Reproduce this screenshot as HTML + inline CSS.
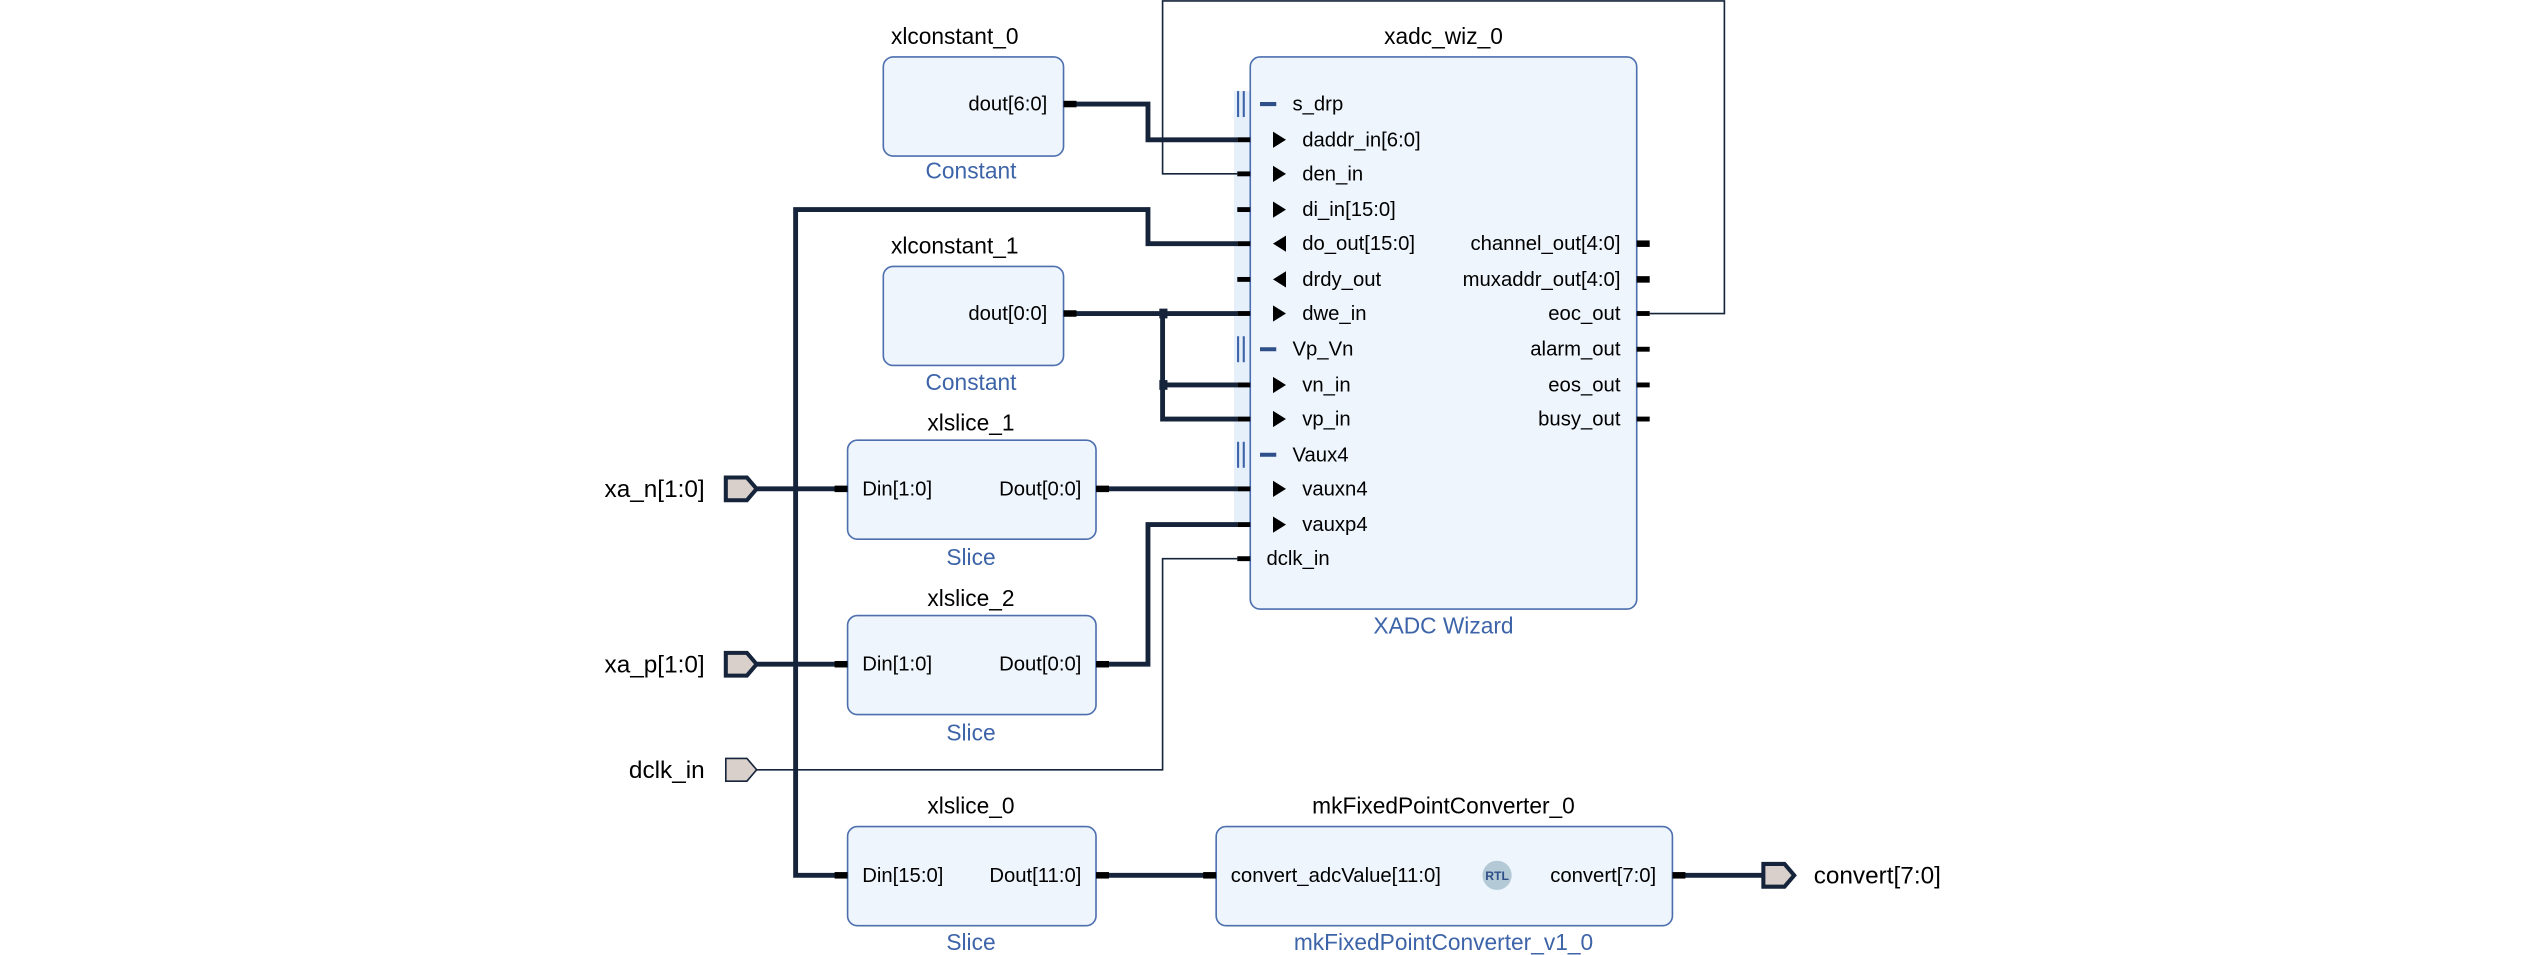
<!DOCTYPE html>
<html><head><meta charset="utf-8"><style>
html,body{margin:0;padding:0;background:#fff;}
svg{display:block;}
text{font-family:"Liberation Sans",Arial,sans-serif;}
.t{font-size:14px;fill:#000;text-anchor:middle;}
.s{font-size:14px;fill:#3d64a8;text-anchor:middle;}
.p{font-size:12.5px;fill:#000;}
.box{fill:#eef5fd;stroke:#4d6fae;stroke-width:1;}
.thick{stroke:#15243a;stroke-width:3;fill:none;}
.thin{stroke:#15243a;stroke-width:1;fill:none;}
.pin{stroke:#000;stroke-width:3;}
.pinb{stroke:#000;stroke-width:4;}
</style></head><body>
<svg width="2546" height="955" viewBox="0 0 1568 588" xmlns="http://www.w3.org/2000/svg">
<rect width="1568" height="588" fill="#fff"/>

<rect x="760" y="56" width="10" height="268" fill="#e6f0fb"/>

<polyline class="thick" points="662,64 707,64 707,86 762,86"/>
<polyline class="thin" points="762,107 716,107 716,0.5 1062,0.5 1062,193 1016,193"/>
<polyline class="thick" points="762,150 707,150 707,129 490,129 490,539 515,539"/>
<polyline class="thick" points="466,301 515,301"/>
<polyline class="thick" points="466,409 515,409"/>
<polyline class="thick" points="662,193 762,193"/>
<polyline class="thick" points="716,193 716,258 762,258"/>
<polyline class="thick" points="716,237 762,237"/>
<rect x="714" y="190" width="5" height="6" fill="#15243a"/>
<rect x="714" y="234" width="5" height="6" fill="#15243a"/>
<polyline class="thick" points="682,301 762,301"/>
<polyline class="thick" points="682,409 707,409 707,323 762,323"/>
<polyline class="thin" points="466,474 716,474 716,344 762,344"/>
<polyline class="thick" points="682,539 742,539"/>
<polyline class="thick" points="1037,539 1085,539"/>

<text class="t" x="588" y="27">xlconstant_0</text>
<rect class="box" x="544" y="35" width="111" height="61" rx="6"/>
<text class="p" x="645" y="68" text-anchor="end">dout[6:0]</text>
<line class="pinb" x1="655" y1="64" x2="663" y2="64"/>
<text class="s" x="598" y="110">Constant</text>

<text class="t" x="588" y="156">xlconstant_1</text>
<rect class="box" x="544" y="164" width="111" height="61" rx="6"/>
<text class="p" x="645" y="197" text-anchor="end">dout[0:0]</text>
<line class="pinb" x1="655" y1="193" x2="663" y2="193"/>
<text class="s" x="598" y="240">Constant</text>

<text class="t" x="889" y="27">xadc_wiz_0</text>
<rect class="box" x="770" y="35" width="238" height="340" rx="6"/>
<text class="s" x="889" y="390">XADC Wizard</text>
<g>
<line x1="762.5" y1="56" x2="762.5" y2="72" stroke="#3d64a8" stroke-width="1.3"/>
<line x1="766" y1="56" x2="766" y2="72" stroke="#3d64a8" stroke-width="1.3"/>
<line x1="776" y1="64" x2="786" y2="64" stroke="#2f4f88" stroke-width="2.5"/>
<text class="p" x="796" y="68">s_drp</text>
<line x1="762.5" y1="207" x2="762.5" y2="223" stroke="#3d64a8" stroke-width="1.3"/>
<line x1="766" y1="207" x2="766" y2="223" stroke="#3d64a8" stroke-width="1.3"/>
<line x1="776" y1="215" x2="786" y2="215" stroke="#2f4f88" stroke-width="2.5"/>
<text class="p" x="796" y="219">Vp_Vn</text>
<line x1="762.5" y1="272" x2="762.5" y2="288" stroke="#3d64a8" stroke-width="1.3"/>
<line x1="766" y1="272" x2="766" y2="288" stroke="#3d64a8" stroke-width="1.3"/>
<line x1="776" y1="280" x2="786" y2="280" stroke="#2f4f88" stroke-width="2.5"/>
<text class="p" x="796" y="284">Vaux4</text>
</g>
<g fill="#000">
<polygon points="784,81 792,86 784,91"/>
<polygon points="784,102 792,107 784,112"/>
<polygon points="784,124 792,129 784,134"/>
<polygon points="792,145 784,150 792,155"/>
<polygon points="792,167 784,172 792,177"/>
<polygon points="784,188 792,193 784,198"/>
<polygon points="784,232 792,237 784,242"/>
<polygon points="784,253 792,258 784,263"/>
<polygon points="784,296 792,301 784,306"/>
<polygon points="784,318 792,323 784,328"/>
</g>
<text class="p" x="802" y="90">daddr_in[6:0]</text>
<text class="p" x="802" y="111">den_in</text>
<text class="p" x="802" y="133">di_in[15:0]</text>
<text class="p" x="802" y="154">do_out[15:0]</text>
<text class="p" x="802" y="176">drdy_out</text>
<text class="p" x="802" y="197">dwe_in</text>
<text class="p" x="802" y="241">vn_in</text>
<text class="p" x="802" y="262">vp_in</text>
<text class="p" x="802" y="305">vauxn4</text>
<text class="p" x="802" y="327">vauxp4</text>
<text class="p" x="780" y="348">dclk_in</text>
<g class="pin">
<line x1="762" y1="86" x2="770" y2="86"/>
<line x1="762" y1="107" x2="770" y2="107"/>
<line x1="762" y1="129" x2="770" y2="129"/>
<line x1="762" y1="150" x2="770" y2="150"/>
<line x1="762" y1="172" x2="770" y2="172"/>
<line x1="762" y1="193" x2="770" y2="193"/>
<line x1="762" y1="237" x2="770" y2="237"/>
<line x1="762" y1="258" x2="770" y2="258"/>
<line x1="762" y1="301" x2="770" y2="301"/>
<line x1="762" y1="323" x2="770" y2="323"/>
<line x1="762" y1="344" x2="770" y2="344"/>
<line x1="1008" y1="193" x2="1016" y2="193"/>
<line x1="1008" y1="215" x2="1016" y2="215"/>
<line x1="1008" y1="237" x2="1016" y2="237"/>
<line x1="1008" y1="258" x2="1016" y2="258"/>
</g>
<line class="pinb" x1="1008" y1="150" x2="1016" y2="150"/>
<line class="pinb" x1="1008" y1="172" x2="1016" y2="172"/>
<text class="p" x="998" y="154" text-anchor="end">channel_out[4:0]</text>
<text class="p" x="998" y="176" text-anchor="end">muxaddr_out[4:0]</text>
<text class="p" x="998" y="197" text-anchor="end">eoc_out</text>
<text class="p" x="998" y="219" text-anchor="end">alarm_out</text>
<text class="p" x="998" y="241" text-anchor="end">eos_out</text>
<text class="p" x="998" y="262" text-anchor="end">busy_out</text>

<text class="t" x="598" y="265">xlslice_1</text>
<rect class="box" x="522" y="271" width="153" height="61" rx="6"/>
<text class="p" x="531" y="305">Din[1:0]</text>
<text class="p" x="666" y="305" text-anchor="end">Dout[0:0]</text>
<line class="pinb" x1="514" y1="301" x2="522" y2="301"/>
<line class="pinb" x1="675" y1="301" x2="683" y2="301"/>
<text class="s" x="598" y="348">Slice</text>

<text class="t" x="598" y="373">xlslice_2</text>
<rect class="box" x="522" y="379" width="153" height="61" rx="6"/>
<text class="p" x="531" y="413">Din[1:0]</text>
<text class="p" x="666" y="413" text-anchor="end">Dout[0:0]</text>
<line class="pinb" x1="514" y1="409" x2="522" y2="409"/>
<line class="pinb" x1="675" y1="409" x2="683" y2="409"/>
<text class="s" x="598" y="456">Slice</text>

<text class="t" x="598" y="501">xlslice_0</text>
<rect class="box" x="522" y="509" width="153" height="61" rx="6"/>
<text class="p" x="531" y="543">Din[15:0]</text>
<text class="p" x="666" y="543" text-anchor="end">Dout[11:0]</text>
<line class="pinb" x1="514" y1="539" x2="522" y2="539"/>
<line class="pinb" x1="675" y1="539" x2="683" y2="539"/>
<text class="s" x="598" y="585">Slice</text>

<text class="t" x="889" y="501">mkFixedPointConverter_0</text>
<rect class="box" x="749" y="509" width="281" height="61" rx="6"/>
<text class="p" x="758" y="543">convert_adcValue[11:0]</text>
<circle cx="922" cy="539" r="9" fill="#b3c9d6"/>
<text x="922" y="542" font-size="7.5" font-weight="bold" fill="#2f4f88" text-anchor="middle">RTL</text>
<text class="p" x="1020" y="543" text-anchor="end">convert[7:0]</text>
<line class="pinb" x1="741" y1="539" x2="749" y2="539"/>
<line class="pinb" x1="1030" y1="539" x2="1038" y2="539"/>
<text class="s" x="889" y="585">mkFixedPointConverter_v1_0</text>

<polygon points="447,294 460,294 466,301 460,308 447,308" fill="#d9d0cb" stroke="#15243a" stroke-width="2.5"/>
<text x="434" y="306" font-size="15" text-anchor="end">xa_n[1:0]</text>
<polygon points="447,402 460,402 466,409 460,416 447,416" fill="#d9d0cb" stroke="#15243a" stroke-width="2.5"/>
<text x="434" y="414" font-size="15" text-anchor="end">xa_p[1:0]</text>
<polygon points="447,467 460,467 466,474 460,481 447,481" fill="#d9d0cb" stroke="#15243a" stroke-width="1"/>
<text x="434" y="479" font-size="15" text-anchor="end">dclk_in</text>
<polygon points="1086,532 1099,532 1105,539 1099,546 1086,546" fill="#d9d0cb" stroke="#15243a" stroke-width="2.5"/>
<text x="1117" y="544" font-size="15">convert[7:0]</text>
</svg>
</body></html>
